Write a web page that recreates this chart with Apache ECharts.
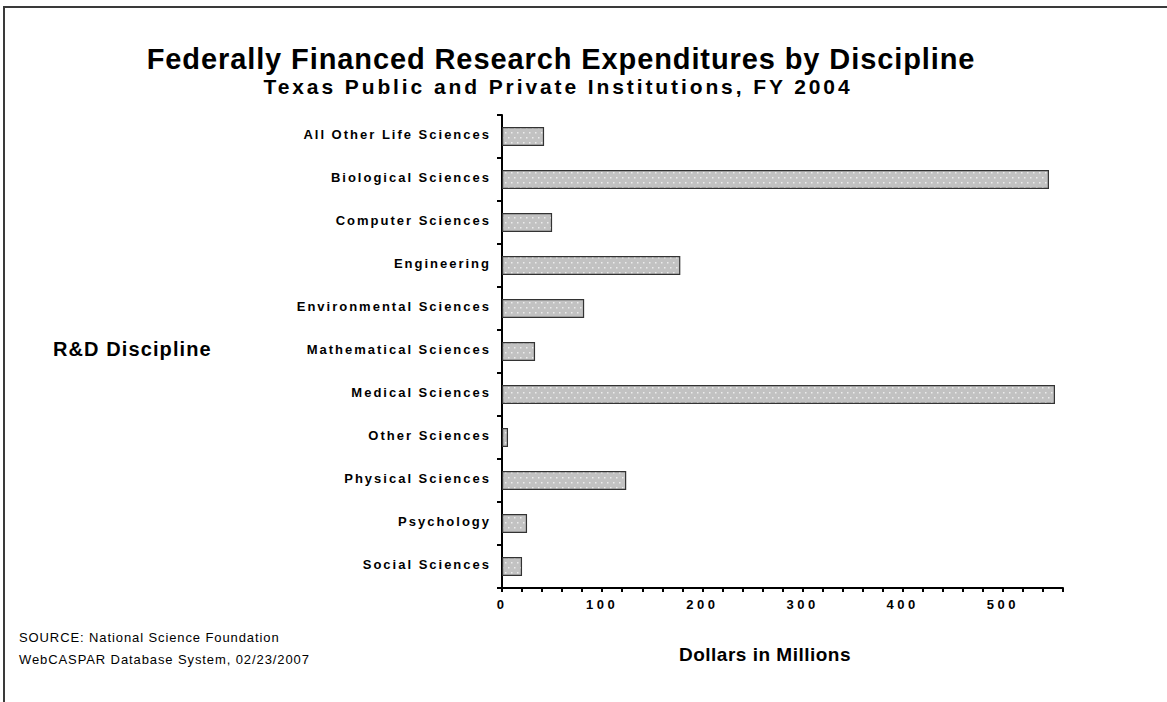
<!DOCTYPE html>
<html>
<head>
<meta charset="utf-8">
<script src="https://cdn.jsdelivr.net/npm/echarts@6/dist/echarts.min.js"></script>
<style>
  html, body { margin: 0; padding: 0; background: #fff; }
  #chart { width: 1167px; height: 702px; }
</style>
</head>
<body>
<div id="chart"></div>
<script>
// Research disciplines, in top-to-bottom order
const disciplines = [
  'All Other Life Sciences', 'Biological Sciences', 'Computer Sciences',
  'Engineering', 'Environmental Sciences', 'Mathematical Sciences',
  'Medical Sciences', 'Other Sciences', 'Physical Sciences',
  'Psychology', 'Social Sciences'
];
// Federally financed expenditures, millions of dollars
const expenditures = [42, 546, 50, 178, 82, 33, 552, 6, 124, 25, 20];
// Labelled ticks on the dollar axis
const dollarTicks = [0, 100, 200, 300, 400, 500];

const titleText = 'Federally Financed Research Expenditures by Discipline';
const subtitleText = 'Texas Public and Private Institutions, FY 2004';
const categoryAxisName = 'R&D Discipline';
const valueAxisName = 'Dollars in Millions';
const sourceLines = ['SOURCE: National Science Foundation', 'WebCASPAR Database System, 02/23/2007'];

// Dotted grey fill for the bars
function dotPattern() {
  const c = document.createElement('canvas');
  c.width = 6; c.height = 10;
  const g = c.getContext('2d');
  g.fillStyle = '#c2c2c2';
  g.fillRect(0, 0, 6, 10);
  g.fillStyle = '#ececec';
  g.fillRect(1, 2, 1.5, 1.5);
  g.fillRect(4, 7, 1.5, 1.5);
  return c;
}

const font = '"Liberation Sans", Arial, sans-serif';
const chart = echarts.init(document.getElementById('chart'), null, { renderer: 'svg' });

const textBase = { fontFamily: font, color: '#000' };

chart.setOption({
  backgroundColor: '#ffffff',
  animation: false,
  title: [
    { text: titleText, left: 561, top: 44, padding: 0, textAlign: 'center',
      textStyle: Object.assign({ fontSize: 29, fontWeight: 'bold' }, textBase) },
    { text: subtitleText, left: 558, top: 76, padding: 0, textAlign: 'center',
      textStyle: Object.assign({ fontSize: 21, fontWeight: 'bold' }, textBase) },
    { text: categoryAxisName, left: 53, top: 339, padding: 0,
      textStyle: Object.assign({ fontSize: 20, fontWeight: 'bold' }, textBase) },
    { text: valueAxisName, left: 765, top: 645, padding: 0, textAlign: 'center',
      textStyle: Object.assign({ fontSize: 19, fontWeight: 'bold' }, textBase) },
    { text: sourceLines.join('\n'), left: 19, top: 626, padding: 0,
      textStyle: Object.assign({ fontSize: 13, fontWeight: 'normal', lineHeight: 22 }, textBase) }
  ],
  graphic: [
    { type: 'rect', shape: { x: 4, y: 7, width: 1300, height: 900 }, silent: true,
      style: { fill: 'none', stroke: '#3a3a3a', lineWidth: 2 } }
  ],
  grid: { left: 502, right: 104, top: 115, bottom: 114 },
  xAxis: {
    type: 'value', min: 0, max: 560, interval: 20,
    axisLine: { show: true, lineStyle: { color: '#000', width: 2 } },
    axisTick: { show: true, length: 4, lineStyle: { color: '#000', width: 2 } },
    splitLine: { show: false },
    axisLabel: Object.assign({
      margin: 10, fontSize: 13, fontWeight: 'bold',
      formatter: v => dollarTicks.includes(v) ? String(v) : ''
    }, textBase)
  },
  yAxis: {
    type: 'category', inverse: true, data: disciplines,
    axisLine: { show: true, lineStyle: { color: '#000', width: 2 } },
    axisTick: { show: true, length: 5, lineStyle: { color: '#000', width: 2 } },
    axisLabel: Object.assign({
      margin: 11, fontSize: 13, fontWeight: 'bold', verticalAlign: 'bottom', lineHeight: 5
    }, textBase)
  },
  series: [{
    type: 'bar',
    data: expenditures,
    barWidth: 19,
    itemStyle: {
      color: { image: dotPattern(), repeat: 'repeat' },
      borderColor: '#333', borderWidth: 1.2
    }
  }]
});

// Wide letter spacing for the printed-report look
function spacingFor(t) {
  if (t === titleText) return 0.9;
  if (t === subtitleText) return 2.9;
  if (t === categoryAxisName) return 1.1;
  if (t === valueAxisName) return 0.5;
  if (sourceLines.includes(t)) return 0.9;
  if (disciplines.includes(t)) return 2;
  if (dollarTicks.map(String).includes(t)) return 3.5;
  return 0;
}
function applySpacing() {
  document.querySelectorAll('#chart svg text').forEach(el => {
    const s = spacingFor(el.textContent.trim());
    if (s) el.setAttribute('letter-spacing', s + 'px');
  });
}
chart.on('finished', applySpacing);
applySpacing();
setTimeout(applySpacing, 50);
</script>
</body>
</html>
